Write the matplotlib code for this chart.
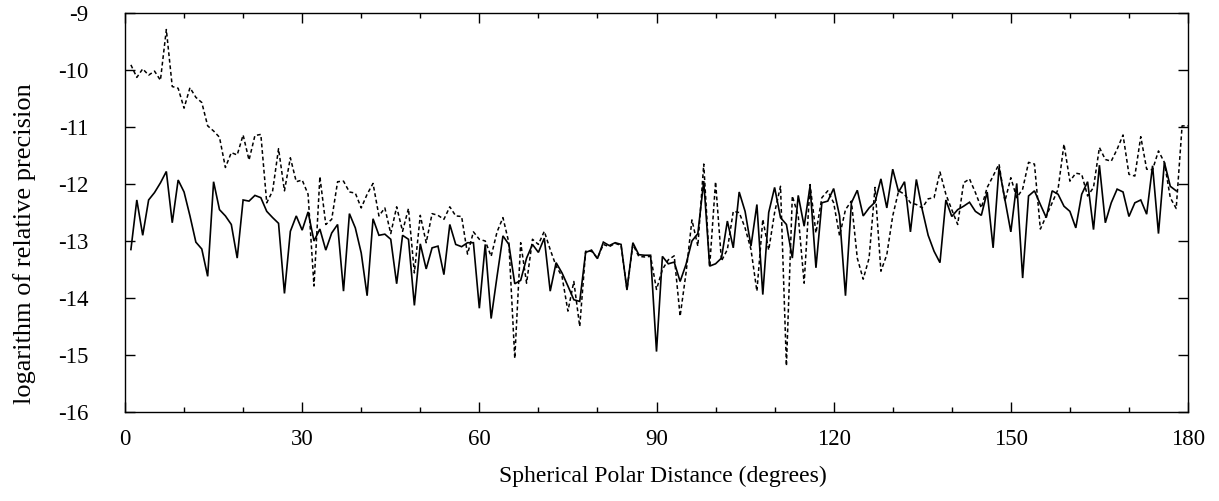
import matplotlib
matplotlib.use("Agg")
import matplotlib.pyplot as plt
from matplotlib.ticker import MultipleLocator

# Data (degrees, log10 relative precision)
solid_deg = list(range(1, 179))
solid_val = [
    -13.15, -12.28, -12.90, -12.28, -12.15, -11.98, -11.78, -12.68, -11.93, -12.14,
    -12.56, -13.02, -13.14, -13.62, -11.96, -12.45, -12.56, -12.71, -13.30, -12.28,
    -12.30, -12.20, -12.24, -12.48, -12.59, -12.69, -13.92, -12.83, -12.56, -12.81,
    -12.49, -13.00, -12.79, -13.16, -12.86, -12.71, -13.88, -12.52, -12.77, -13.21,
    -13.96, -12.61, -12.90, -12.88, -12.97, -13.75, -12.90, -12.97, -14.13, -13.05,
    -13.49, -13.12, -13.09, -13.59, -12.71, -13.06, -13.10, -13.03, -13.03, -14.18,
    -13.06, -14.36, -13.62, -12.91, -13.06, -13.75, -13.69, -13.30, -13.06, -13.20,
    -12.95, -13.88, -13.38, -13.56, -13.79, -14.03, -14.06, -13.20, -13.16, -13.31,
    -13.02, -13.08, -13.03, -13.06, -13.86, -13.03, -13.24, -13.25, -13.25, -14.94,
    -13.27, -13.40, -13.37, -13.71, -13.41, -13.00, -12.87, -11.95, -13.44, -13.40,
    -13.30, -12.65, -13.12, -12.14, -12.48, -13.09, -12.36, -13.94, -12.50, -12.06,
    -12.59, -12.71, -13.30, -12.20, -12.74, -12.04, -13.47, -12.33, -12.30, -12.08,
    -12.56, -13.96, -12.33, -12.11, -12.56, -12.42, -12.32, -11.91, -12.42, -11.74,
    -12.14, -11.96, -12.84, -11.92, -12.45, -12.90, -13.18, -13.38, -12.28, -12.57,
    -12.45, -12.39, -12.32, -12.48, -12.55, -12.14, -13.12, -11.71, -12.27, -12.84,
    -11.99, -13.65, -12.21, -12.12, -12.36, -12.59, -12.12, -12.18, -12.39, -12.48,
    -12.77, -12.18, -11.96, -12.80, -11.67, -12.68, -12.33, -12.09, -12.14, -12.57,
    -12.33, -12.28, -12.53, -11.68, -12.87, -11.62, -12.04, -12.12,
]

dotted_deg = list(range(1, 181))
dotted_val = [
    -9.91, -10.13, -9.98, -10.09, -10.02, -10.18, -9.29, -10.29, -10.32, -10.67,
    -10.31, -10.48, -10.57, -10.98, -11.07, -11.18, -11.71, -11.45, -11.49, -11.14,
    -11.58, -11.15, -11.13, -12.33, -12.12, -11.38, -12.12, -11.54, -11.96, -11.93,
    -12.18, -13.79, -11.87, -12.71, -12.62, -11.96, -11.95, -12.14, -12.16, -12.42,
    -12.18, -11.99, -12.56, -12.42, -12.87, -12.40, -12.83, -12.43, -13.56, -12.55,
    -13.03, -12.52, -12.55, -12.62, -12.40, -12.56, -12.57, -13.23, -12.84, -12.97,
    -13.00, -13.27, -12.84, -12.59, -13.03, -15.06, -13.03, -13.74, -12.97, -13.06,
    -12.83, -13.15, -13.44, -13.62, -14.23, -13.71, -14.50, -13.18, -13.18, -13.30,
    -13.06, -13.10, -13.04, -13.08, -13.85, -13.06, -13.27, -13.28, -13.27, -13.85,
    -13.50, -13.33, -13.26, -14.32, -13.56, -12.63, -13.09, -11.65, -13.45, -11.96,
    -13.35, -13.15, -12.48, -12.50, -12.77, -13.15, -13.88, -12.62, -13.16, -12.50,
    -12.04, -15.19, -12.21, -12.56, -13.74, -12.01, -12.86, -12.24, -12.12, -12.33,
    -12.91, -12.45, -12.30, -13.30, -13.67, -13.30, -12.06, -13.53, -13.24, -12.56,
    -12.12, -12.18, -12.33, -12.36, -12.42, -12.26, -12.24, -11.79, -12.18, -12.45,
    -12.71, -11.98, -11.91, -12.15, -12.42, -12.06, -11.86, -11.65, -12.30, -11.89,
    -12.24, -12.09, -11.62, -11.65, -12.79, -12.56, -12.33, -12.09, -11.30, -11.95,
    -11.81, -11.83, -12.21, -12.06, -11.36, -11.57, -11.60, -11.39, -11.14, -11.83,
    -11.86, -11.17, -11.74, -11.75, -11.42, -11.62, -12.24, -12.43, -10.98, -10.98,
]

x_ticks = [0, 30, 60, 90, 120, 150, 180]
y_ticks = [-16, -15, -14, -13, -12, -11, -10, -9]

plt.rcParams['font.family'] = ['Liberation Serif', 'DejaVu Serif']

fig = plt.figure(figsize=(12.19, 5.01), dpi=100)
ax = fig.add_axes([125/1219, 1 - 412/501, (1188-125)/1219, (412-13)/501])

ax.plot(solid_deg, solid_val, color='black', lw=1.2, solid_joinstyle='miter')
ax.plot(dotted_deg, dotted_val, color='black', lw=1.1, linestyle=(0, (2.5, 1.8)))

ax.set_xlim(0, 180)
ax.set_ylim(-16, -9)
ax.set_xticks(x_ticks)
ax.set_xticklabels([str(t) for t in x_ticks])
ax.set_yticks(y_ticks)
ax.set_yticklabels([str(t) for t in y_ticks])
ax.xaxis.set_minor_locator(MultipleLocator(10))

ax.tick_params(which='both', direction='in', top=True, right=True, labelsize=16.5,
               width=1, colors='black')
ax.tick_params(which='major', length=7)
ax.tick_params(which='minor', length=3.5)
ax.tick_params(axis='x', pad=12.5)
ax.tick_params(axis='y', pad=26.5)
for s in ax.spines.values():
    s.set_linewidth(1)
    s.set_color('black')

ax.set_xlabel('Spherical Polar Distance (degrees)', fontsize=17)
ax.xaxis.set_label_coords(0.506, (412 - 466) / 399)
ax.set_ylabel('logarithm of relative precision', fontsize=19)
ax.yaxis.set_label_coords((36 - 125) / 1063, (412 - 244) / 399)

fig.savefig('out.png', dpi=100)
